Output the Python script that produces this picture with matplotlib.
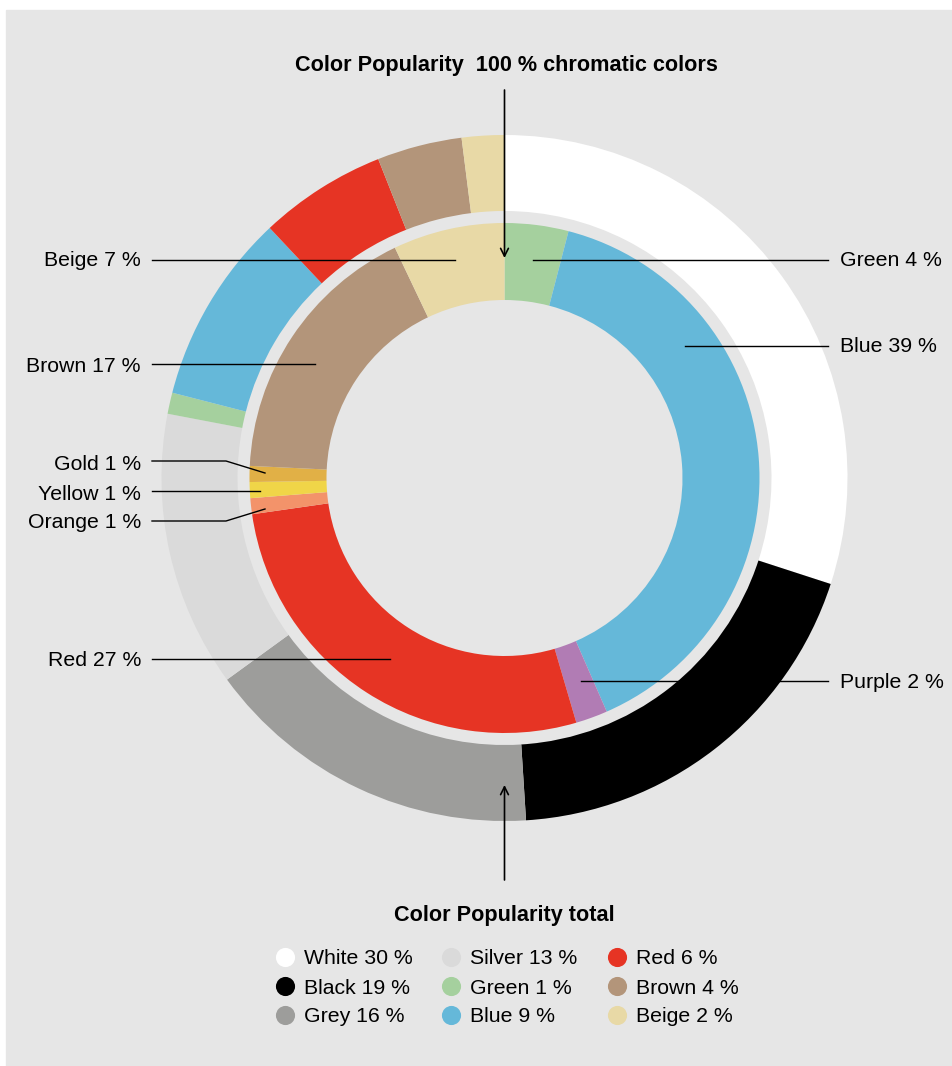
import matplotlib.pyplot as plt

plt.rcParams['font.family'] = ['Liberation Sans', 'DejaVu Sans']

# Outer ring: all colors
total_labels = ['White', 'Black', 'Grey', 'Silver', 'Green', 'Blue', 'Red', 'Brown', 'Beige']
total_values = [30, 19, 16, 13, 1, 9, 6, 4, 2]
total_colors = ['#ffffff', '#000000', '#9d9d9b', '#dadada', '#a5d09e',
                '#65b8d9', '#e63424', '#b3957a', '#e8d9a6']

# Inner ring: chromatic colors
chroma_labels = ['Green', 'Blue', 'Purple', 'Red', 'Orange', 'Yellow', 'Gold', 'Brown', 'Beige']
chroma_values = [4, 39, 2, 27, 1, 1, 1, 17, 7]
chroma_colors = ['#a5d09e', '#65b8d9', '#b17cb4', '#e63424', '#f3936a',
                 '#f0d548', '#e1b046', '#b3957a', '#e8d9a6']

W, H = 953, 1066
bg = '#e6e6e6'

fig = plt.figure(figsize=(W / 100, H / 100), dpi=100)
ax = fig.add_axes([0, 0, 1, 1])

cx, cy = 504.5, H - 478

ax.pie(total_values, colors=total_colors, radius=343, center=(cx, cy),
       startangle=90, counterclock=False,
       wedgeprops=dict(width=76, linewidth=0))
ax.pie(chroma_values, colors=chroma_colors, radius=255, center=(cx, cy),
       startangle=90, counterclock=False,
       wedgeprops=dict(width=77, linewidth=0))

ax.set_xlim(0, W)
ax.set_ylim(0, H)
ax.set_aspect('equal')
ax.axis('off')

# grey panel
ax.add_patch(plt.Rectangle((6, 0), W, H - 10, color=bg, zorder=-10))

fs = 15.3

# label lines (pixel coords, y from top)
left = {
    'Beige': (261, [(152, 260), (455, 260)]),
    'Brown': (366, [(152, 364), (315, 364)]),
    'Gold': (465, [(152, 461), (226, 461), (265, 473)]),
    'Yellow': (494, [(152, 491), (260, 491)]),
    'Orange': (523, [(152, 521), (226, 521), (265, 509)]),
    'Red': (660, [(152, 659), (390, 659)]),
}
right = {
    'Green': (260, [(533, 260), (828, 260)]),
    'Blue': (346, [(685, 346), (828, 346)]),
    'Purple': (682, [(581, 681), (828, 681)]),
}

for name, val in zip(chroma_labels, chroma_values):
    if name in left:
        ty, pts = left[name]
        ax.text(141, H - ty, f'{name} {val} %', ha='right', va='center', fontsize=fs)
    else:
        ty, pts = right[name]
        ax.text(840, H - ty, f'{name} {val} %', ha='left', va='center', fontsize=fs)
    xs = [p[0] for p in pts]
    ys = [H - p[1] for p in pts]
    ax.plot(xs, ys, color='black', lw=1.0, zorder=5)

# titles and arrows
ax.text(cx + 2, H - 65, 'Color Popularity  100 % chromatic colors', ha='center', va='center',
        fontsize=15.6, fontweight='bold')
ax.annotate('', xy=(cx, H - 258), xytext=(cx, H - 90),
            arrowprops=dict(arrowstyle='->', lw=1.2, color='black', mutation_scale=14,
                            shrinkA=0, shrinkB=0), zorder=6)
ax.text(cx, H - 915, 'Color Popularity total', ha='center', va='center',
        fontsize=15.6, fontweight='bold')
ax.annotate('', xy=(cx, H - 785), xytext=(cx, H - 880),
            arrowprops=dict(arrowstyle='->', lw=1.2, color='black', mutation_scale=14,
                            shrinkA=0, shrinkB=0), zorder=6)

# legend
col_x = [285, 451, 617]
row_y = [957, 986, 1015]
for i, (name, val, col) in enumerate(zip(total_labels, total_values, total_colors)):
    x = col_x[i // 3]
    y = H - row_y[i % 3]
    ax.scatter([x], [y], s=190, color=col, linewidths=0, zorder=5)
    ax.text(x + 19, y - 2, f'{name} {val} %', ha='left', va='center', fontsize=fs)

fig.savefig('out.png', dpi=100, facecolor='white')
